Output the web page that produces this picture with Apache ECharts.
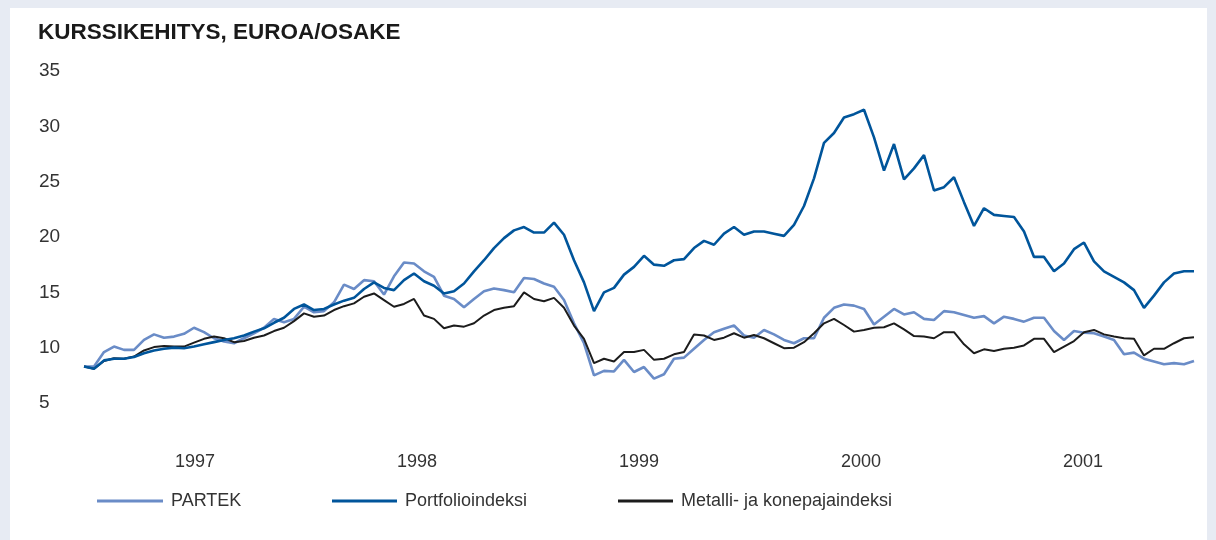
<!DOCTYPE html>
<html>
<head>
<meta charset="utf-8">
<title>Kurssikehitys</title>
<script src="https://cdn.jsdelivr.net/npm/echarts@6/dist/echarts.min.js"></script>
<style>
  html, body { margin: 0; padding: 0; background: #e7ebf3; }
  #chart { width: 1216px; height: 540px; }
</style>
</head>
<body>
<div id="chart"></div>
<script>
// vuosien nimiöt x-akselilla
const years = ['1997', '1998', '1999', '2000', '2001'];

// y-akselin asteikko
const yMin = 5;
const yMax = 35;
const yStep = 5;

// sarjojen nimet
const names = ['PARTEK', 'Portfolioindeksi', 'Metalli- ja konepajaindeksi'];

// kurssit noin kahden viikon välein, euroa/osake
const partek = [
  8.3, 8.3, 9.6, 10.1, 9.8, 9.8, 10.7, 11.2, 10.9, 11.0,
  11.25, 11.8, 11.4, 10.85, 10.55, 10.4, 10.85, 11.3, 11.8, 12.6,
  12.3, 12.6, 13.7, 13.2, 13.3, 14.1, 15.7, 15.3, 16.1, 16.0,
  14.8, 16.45, 17.7, 17.6, 16.9, 16.4, 14.7, 14.4, 13.65, 14.4,
  15.1, 15.35, 15.2, 15.0, 16.3, 16.2, 15.8, 15.5, 14.3, 12.2,
  10.4, 7.5, 7.9, 7.85, 8.9, 7.8, 8.25, 7.2, 7.6, 9.0,
  9.1, 9.9, 10.7, 11.4, 11.7, 12.0, 11.1, 10.9, 11.6, 11.2,
  10.7, 10.4, 10.85, 10.85, 12.7, 13.6, 13.9, 13.8, 13.5, 12.1,
  12.8, 13.5, 13.0, 13.2, 12.6, 12.5, 13.3, 13.2, 12.95, 12.7,
  12.85, 12.2, 12.8, 12.6, 12.35, 12.7, 12.7, 11.5, 10.7, 11.5,
  11.35, 11.3, 11.0, 10.7, 9.4, 9.55, 9.0, 8.75, 8.5, 8.6,
  8.5, 8.8
];

const portfolio = [
  8.3, 8.1, 8.85, 9.0, 9.0, 9.15, 9.5, 9.75, 9.9, 10.0,
  9.95, 10.1, 10.3, 10.5, 10.7, 10.85, 11.1, 11.45, 11.75, 12.25,
  12.7, 13.5, 13.9, 13.4, 13.5, 13.9, 14.25, 14.5, 15.3, 15.9,
  15.4, 15.2, 16.1, 16.7, 16.0, 15.6, 14.9, 15.1, 15.8, 16.9,
  17.9, 19.0, 19.9, 20.6, 20.9, 20.4, 20.4, 21.3, 20.2, 17.9,
  15.9, 13.3, 15.0, 15.4, 16.6, 17.3, 18.3, 17.5, 17.4, 17.9,
  18.0, 19.0, 19.65, 19.3, 20.3, 20.9, 20.2, 20.5, 20.5, 20.3,
  20.1, 21.1, 22.8, 25.3, 28.5, 29.4, 30.8, 31.1, 31.5, 29.0,
  26.0, 28.4, 25.2, 26.2, 27.4, 24.2, 24.5, 25.4, 23.15, 21.0,
  22.6, 22.0, 21.9, 21.8, 20.5, 18.2, 18.2, 16.9, 17.6, 18.9,
  19.5, 17.8, 16.9, 16.4, 15.9, 15.2, 13.6, 14.7, 15.9, 16.7,
  16.9, 16.9
];

const metalli = [
  8.3, 8.1, 8.8, 9.05, 9.0, 9.2, 9.75, 10.05, 10.15, 10.1,
  10.1, 10.45, 10.8, 11.0, 10.85, 10.5, 10.6, 10.9, 11.1, 11.5,
  11.8, 12.4, 13.1, 12.8, 12.9, 13.4, 13.75, 14.0, 14.6, 14.9,
  14.3, 13.7, 13.95, 14.4, 12.9, 12.6, 11.75, 12.0, 11.9, 12.2,
  12.9, 13.4, 13.6, 13.75, 15.0, 14.4, 14.2, 14.5, 13.6, 12.0,
  10.8, 8.6, 9.0, 8.75, 9.6, 9.6, 9.8, 8.9, 9.0, 9.4,
  9.6, 11.2, 11.1, 10.7, 10.9, 11.3, 10.9, 11.15, 10.85, 10.4,
  9.95, 10.0, 10.5, 11.3, 12.2, 12.6, 12.05, 11.45, 11.6, 11.8,
  11.85, 12.2, 11.65, 11.05, 11.0, 10.85, 11.4, 11.4, 10.3, 9.5,
  9.85, 9.7, 9.9, 10.0, 10.2, 10.8, 10.8, 9.6, 10.1, 10.6,
  11.4, 11.6, 11.2, 11.0, 10.85, 10.8, 9.3, 9.9, 9.9, 10.4,
  10.85, 10.95
];

// päivämäärät havainnoille (vain kategoria-akselia varten)
const dates = partek.map((v, i) => {
  const d = new Date(1997, 0, 1 + Math.round(i * 365.25 * 5 / (partek.length - 1)));
  return d.toISOString().slice(0, 10);
});

const colors = ['#6a8cc7', '#00559b', '#1c1c1c'];
const font = '"Liberation Sans", Arial, sans-serif';

const chart = echarts.init(document.getElementById('chart'));

const option = {
  backgroundColor: '#e7ebf3',
  animation: false,
  textStyle: { fontFamily: font },
  graphic: [{
    type: 'rect',
    z: -10,
    silent: true,
    shape: { x: 10, y: 8, width: 1197, height: 540 },
    style: { fill: '#ffffff' }
  }],
  title: {
    text: 'KURSSIKEHITYS, EUROA/OSAKE',
    left: 38,
    top: 21,
    padding: 0,
    textStyle: {
      fontFamily: font,
      fontSize: 22.5,
      fontWeight: 'bold',
      color: '#1a1a1a'
    }
  },
  legend: names.map((n, i) => ({
    data: [n],
    left: [97, 332, 618][i],
    top: 492,
    padding: 0,
    itemWidth: [66, 65, 55][i],
    itemHeight: 3,
    icon: 'rect',
    textStyle: {
      fontFamily: font,
      fontSize: 18,
      color: '#333',
      padding: [0, 0, 0, 3]
    }
  })),
  grid: {
    left: 84,
    right: 22,
    top: 71,
    bottom: 137,
    containLabel: false
  },
  xAxis: [
    {
      type: 'category',
      data: dates,
      boundaryGap: false,
      axisLine: { show: false },
      axisTick: { show: false },
      axisLabel: { show: false },
      splitLine: { show: false }
    },
    {
      type: 'category',
      data: years,
      position: 'bottom',
      boundaryGap: true,
      axisLine: { show: false },
      axisTick: { show: false },
      splitLine: { show: false },
      axisLabel: {
        margin: 50,
        fontFamily: font,
        fontSize: 18,
        color: '#333'
      }
    }
  ],
  yAxis: {
    type: 'value',
    min: yMin,
    max: yMax,
    interval: yStep,
    axisLine: { show: false },
    axisTick: { show: false },
    splitLine: { show: false },
    axisLabel: {
      align: 'left',
      margin: 45,
      fontFamily: font,
      fontSize: 19,
      color: '#333'
    }
  },
  series: [
    { name: names[0], data: partek },
    { name: names[1], data: portfolio },
    { name: names[2], data: metalli }
  ].map((s, i) => ({
    name: s.name,
    type: 'line',
    xAxisIndex: 0,
    data: s.data,
    showSymbol: false,
    symbol: 'none',
    smooth: false,
    z: [2, 4, 3][i],
    lineStyle: { color: colors[i], width: i === 2 ? 2 : 2.6 },
    itemStyle: { color: colors[i] }
  }))
};

chart.setOption(option);
</script>
</body>
</html>
